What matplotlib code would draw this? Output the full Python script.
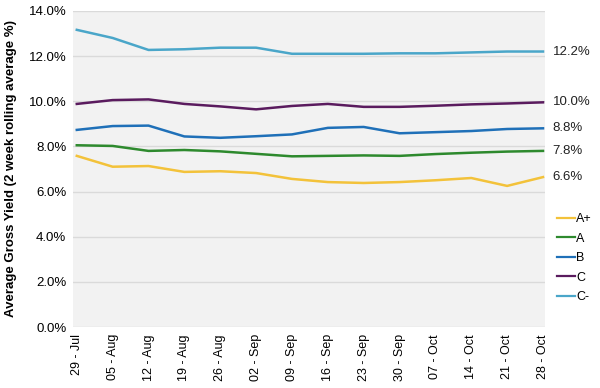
import numpy as np
import matplotlib
matplotlib.use('Agg')
import matplotlib.pyplot as plt
from matplotlib.ticker import PercentFormatter

plt.rcParams['font.family'] = ['Liberation Sans', 'DejaVu Sans']

# week labels (2 week rolling average)
weeks = ['29 - Jul', '05 - Aug', '12 - Aug', '19 - Aug', '26 - Aug', '02 - Sep',
         '09 - Sep', '16 - Sep', '23 - Sep', '30 - Sep', '07 - Oct', '14 - Oct',
         '21 - Oct', '28 - Oct']

a_plus = [7.58, 7.10, 7.13, 6.87, 6.90, 6.82, 6.56, 6.42, 6.38, 6.42, 6.50, 6.60, 6.25, 6.64]
a_grade = [8.05, 8.02, 7.80, 7.84, 7.78, 7.67, 7.56, 7.58, 7.60, 7.58, 7.66, 7.72, 7.77, 7.80]
b_grade = [8.73, 8.90, 8.92, 8.44, 8.38, 8.45, 8.53, 8.82, 8.86, 8.58, 8.63, 8.68, 8.77, 8.80]
c_grade = [9.88, 10.05, 10.08, 9.88, 9.77, 9.64, 9.79, 9.88, 9.75, 9.75, 9.80, 9.86, 9.90, 9.95]
c_minus = [13.16, 12.80, 12.27, 12.30, 12.37, 12.37, 12.10, 12.10, 12.10, 12.12, 12.12, 12.16, 12.20, 12.20]

end_labels = ['6.6%', '7.8%', '8.8%', '10.0%', '12.2%']
series_names = ['A+', 'A', 'B', 'C', 'C-']
colors = ['#F3C23A', '#2E8A2E', '#1F70B8', '#5A1B5E', '#4AA6C9']

fig = plt.figure(figsize=(6, 3.88), dpi=100)
ax = fig.add_axes([0.122, 0.157, 0.786, 0.815])
ax.set_facecolor('#F2F2F2')

x = np.arange(len(weeks))
all_series = [a_plus, a_grade, b_grade, c_grade, c_minus]
for vals, name, col, lab in zip(all_series, series_names, colors, end_labels):
    ax.plot(x, vals, color=col, lw=1.8, label=name)
    ax.annotate(lab, xy=(x[-1], vals[-1]), xytext=(7, 0), textcoords='offset points',
                va='center', ha='left', fontsize=9.5, color='#222222',
                annotation_clip=False)

ax.set_ylim(0, 14)
ax.set_yticks(np.arange(0, 14.1, 2))
ax.yaxis.set_major_formatter(PercentFormatter(decimals=1))
ax.set_xlim(-0.1, 13.05)
ax.set_xticks(x)
ax.set_xticklabels(weeks, rotation=90, fontsize=9)
ax.tick_params(axis='y', labelsize=9.5, length=0, pad=5)
ax.tick_params(axis='x', length=0, pad=5)
ax.grid(axis='y', color='#DADADA', lw=1)
ax.set_axisbelow(True)
for s in ax.spines.values():
    s.set_visible(False)

ax.set_ylabel('Average Gross Yield (2 week rolling average %)', fontsize=9.5,
              fontweight='bold', labelpad=8)

leg = fig.legend(loc='upper left', bbox_to_anchor=(0.91, 0.48), frameon=False,
                 fontsize=9, handlelength=1.4, handletextpad=0.1, labelspacing=0.6)
for line in leg.get_lines():
    line.set_linewidth(1.6)

fig.savefig('out.png', dpi=100)
